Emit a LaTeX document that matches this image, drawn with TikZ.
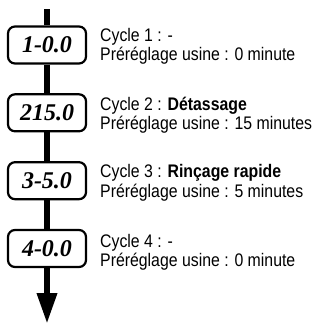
\documentclass[tikz,border=0pt]{standalone}
\usepackage{fontspec}
\setmainfont{Liberation Sans}
\newfontfamily\txtf[FakeStretch=0.87]{Liberation Sans}
\newfontfamily\boxf{Liberation Serif}
\usetikzlibrary{arrows.meta}
\tikzset{
  cyclebox/.style={draw=black, line width=2.2pt, rounded corners=7pt, fill=white,
    minimum width=78pt, minimum height=37pt, inner sep=0pt,
    font=\boxf\bfseries\itshape\fontsize{24}{24}\selectfont},
  desc/.style={anchor=base west, inner sep=0pt,
    font=\txtf\fontsize{18.2}{20}\selectfont},
  spine/.style={line width=6.5pt, draw=black}
}
\begin{document}
\begin{tikzpicture}[x=1pt,y=-1pt]
\useasboundingbox (0,0) rectangle (324,324);
\coordinate (top) at (47,9);
\coordinate (bot) at (47,324);
\node[cyclebox] (b1) at (47,45) {1-0.0};
\node[cyclebox] (b2) at (47,112.8) {215.0};
\node[cyclebox] (b3) at (47,180.7) {3-5.0};
\node[cyclebox] (b4) at (47,248.5) {4-0.0};
\draw[spine] (top) -- (b1.north);
\draw[spine] (b1.south) -- (b2.north);
\draw[spine] (b2.south) -- (b3.north);
\draw[spine] (b3.south) -- (b4.north);
\draw[spine, -{Triangle[length=31pt,width=19pt]}] (b4.south) -- (bot);
\node[desc] (t1a) at (100,41) {Cycle 1 : -};
\node[desc] (t1b) at (100,60.5) {Préréglage usine : 0 minute};
\node[desc] (t2a) at (100,110) {Cycle 2 : \textbf{Détassage}};
\node[desc] (t2b) at (100,129.5) {Préréglage usine : 15 minutes};
\node[desc] (t3a) at (100,177.5) {Cycle 3 : \textbf{Rinçage rapide}};
\node[desc] (t3b) at (100,197) {Préréglage usine : 5 minutes};
\node[desc] (t4a) at (100,247) {Cycle 4 : -};
\node[desc] (t4b) at (100,266.5) {Préréglage usine : 0 minute};
\end{tikzpicture}
\end{document}
